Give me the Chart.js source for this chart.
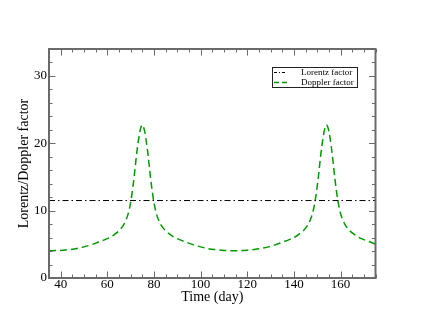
<!DOCTYPE html>
<html>
<head>
<meta charset="utf-8">
<script src="https://cdn.jsdelivr.net/npm/chart.js@4/dist/chart.umd.min.js"></script>
<style>
html,body{margin:0;padding:0;background:#fff;}
canvas{display:block;}
</style>
</head>
<body>
<canvas id="c" width="423" height="327"></canvas>
<script>
// ---- data ----
const days = [35,38,41,44,47,50,53,56,59,61,63,65,66,67,68,69,70,70.5,71,71.5,72,72.5,73,73.5,74,74.5,75,75.5,76,76.5,77,77.5,78,78.5,79,79.5,80,81,82,83,84,85,87,89,91,94,97,100,103,106,109,112,114.5,117,120,123,126,129,132,135,138,140,142,144,145,146,147,148,149,149.5,150,150.5,151,151.5,152,152.5,153,153.5,154,154.5,155,155.5,156,156.5,157,157.5,158,158.5,159,160,161,162,163,164,166,168,170,173,175];
const dopplerFactor = [4.05,4.07,4.13,4.23,4.38,4.62,4.92,5.3,5.7,6.0,6.45,7.0,7.4,7.9,8.6,9.6,11.2,12.3,13.6,15.0,16.6,18.2,19.6,20.8,21.8,22.45,22.75,22.45,21.8,20.8,19.6,18.2,16.6,15.0,13.6,12.3,11.2,9.6,8.6,7.9,7.4,7.0,6.45,6.0,5.7,5.3,4.92,4.62,4.38,4.23,4.13,4.07,4.05,4.07,4.13,4.23,4.38,4.62,4.92,5.3,5.7,6.0,6.45,7.0,7.4,7.9,8.6,9.6,11.2,12.3,13.6,15.0,16.6,18.2,19.6,20.8,21.8,22.45,22.75,22.45,21.8,20.8,19.6,18.2,16.6,15.0,13.6,12.3,11.2,9.6,8.6,7.9,7.4,7.0,6.45,6.0,5.7,5.3,5.05];
const lorentzDays = [35,175];
const lorentzFactor = [11.5,11.5];
const seriesLabels = ['Lorentz factor','Doppler factor'];
const xTickValues = [40,60,80,100,120,140,160];
const yTickValues = [0,10,20,30];
const xTitle = 'Time (day)';
const yTitle = 'Lorentz/Doppler factor';

const SERIF = '"Liberation Serif","Times New Roman",serif';

const frameTicks = {
  id: 'frameTicks',
  afterDraw(chart) {
    const {ctx, chartArea: a, scales: {x, y}} = chart;
    ctx.save();
    ctx.strokeStyle = '#6a6a6a';
    ctx.lineWidth = 1;
    const seg = (x1, y1, x2, y2) => { ctx.beginPath(); ctx.moveTo(x1, y1); ctx.lineTo(x2, y2); ctx.stroke(); };
    for (let v = x.min; v <= x.max + 1e-9; v += 5) {
      const px = Math.round(x.getPixelForValue(v)) + 0.5;
      const L = (v % 20 === 0) ? 6.5 : 3.5;
      seg(px, a.bottom, px, a.bottom - L);
      seg(px, a.top, px, a.top + L);
    }
    for (let v = y.min; v <= y.max + 1e-9; v += 2) {
      const py = Math.round(y.getPixelForValue(v)) + 0.5;
      const L = (v % 10 === 0) ? 6.5 : 3.5;
      seg(a.left, py, a.left + L, py);
      seg(a.right, py, a.right - L, py);
    }
    ctx.lineWidth = 2;
    ctx.strokeRect(a.left, a.top, a.right - a.left, a.bottom - a.top);
    ctx.restore();
  }
};

const boxLegend = {
  id: 'boxLegend',
  afterDraw(chart) {
    const ctx = chart.ctx;
    const bx = 272, by = 67, bw = 85, bh = 20;
    ctx.save();
    ctx.fillStyle = '#fff';
    ctx.fillRect(bx, by, bw, bh);
    ctx.strokeStyle = '#222';
    ctx.lineWidth = 1;
    ctx.strokeRect(bx + 0.5, by + 0.5, bw, bh);
    chart.data.datasets.forEach((ds, i) => {
      const cy = by + 5.5 + i * 10;
      ctx.strokeStyle = ds.borderColor;
      ctx.lineWidth = ds.borderWidth;
      ctx.setLineDash(ds.legendDash);
      ctx.beginPath();
      ctx.moveTo(bx + 2, cy);
      ctx.lineTo(bx + 15, cy);
      ctx.stroke();
      ctx.setLineDash([]);
      ctx.fillStyle = '#000';
      ctx.font = '9px ' + SERIF;
      ctx.textBaseline = 'middle';
      ctx.textAlign = 'left';
      ctx.fillText(ds.label, bx + 29, cy + 0.5);
    });
    ctx.restore();
  }
};

new Chart(document.getElementById('c'), {
  type: 'line',
  data: {
    datasets: [
      {
        label: seriesLabels[0],
        data: lorentzDays.map((d, i) => ({x: d, y: lorentzFactor[i]})),
        borderColor: '#000000',
        borderWidth: 1,
        borderDash: [6, 3, 1.5, 3],
        legendDash: [3, 2, 1, 2],
        pointRadius: 0,
        fill: false
      },
      {
        label: seriesLabels[1],
        data: days.map((d, i) => ({x: d, y: dopplerFactor[i]})),
        borderColor: '#009a00',
        borderWidth: 1.5,
        borderDash: [7, 4],
        legendDash: [5, 3],
        pointRadius: 0,
        cubicInterpolationMode: 'monotone',
        fill: false
      }
    ]
  },
  options: {
    responsive: false,
    animation: false,
    layout: {padding: {top: 49, right: 47.5, left: 0, bottom: 0}},
    plugins: {legend: {display: false}, tooltip: {enabled: false}},
    scales: {
      x: {
        type: 'linear',
        min: 35, max: 175,
        grid: {display: false, drawTicks: false},
        border: {display: false},
        afterBuildTicks: s => { s.ticks = xTickValues.map(v => ({value: v})); },
        afterFit: s => { s.height = 49; },
        ticks: {color: '#000', font: {family: SERIF, size: 13}, padding: -1, maxRotation: 0, autoSkip: false},
        title: {display: true, text: xTitle, color: '#000', font: {family: SERIF, size: 14}, padding: {top: 0, bottom: 21}}
      },
      y: {
        type: 'linear',
        min: 0, max: 34,
        grid: {display: false, drawTicks: false},
        border: {display: false},
        afterBuildTicks: s => { s.ticks = yTickValues.map(v => ({value: v})); },
        afterFit: s => { s.width = 49; },
        ticks: {color: '#000', font: {family: SERIF, size: 13}, padding: 2, autoSkip: false},
        title: {display: true, text: yTitle, color: '#000', font: {family: SERIF, size: 14}, padding: {top: 15.5, bottom: 0}}
      }
    }
  },
  plugins: [frameTicks, boxLegend]
});
</script>
</body>
</html>
